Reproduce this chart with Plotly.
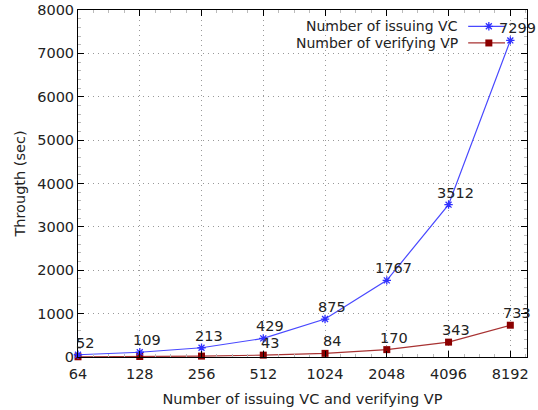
import plotly.graph_objects as go

categories = ["64", "128", "256", "512", "1024", "2048", "4096", "8192"]
issuing_vc = [52, 109, 213, 429, 875, 1767, 3512, 7299]
verifying_vp = [5, 11, 21, 43, 84, 170, 343, 733]
vp_labeled = [False, False, False, True, True, True, True, True]
y_ticks = [0, 1000, 2000, 3000, 4000, 5000, 6000, 7000, 8000]

BLUE = "#3030ff"
BLUE_LINE = "#4848ff"
RED = "#8b0000"
RED_LINE = "#a83232"
FONT = "DejaVu Sans"
FS = 14.5
xs = list(range(len(categories)))

fig = go.Figure()
fig.add_trace(go.Scatter(x=xs, y=verifying_vp, mode="lines+markers",
                         line=dict(color=RED_LINE, width=1.2),
                         marker=dict(symbol="square", size=7, color=RED),
                         showlegend=False, cliponaxis=False))
fig.add_trace(go.Scatter(x=xs, y=issuing_vc, mode="lines+markers",
                         line=dict(color=BLUE_LINE, width=1.2),
                         marker=dict(symbol="asterisk-open", size=7, color=BLUE,
                                     line=dict(color=BLUE, width=1.3)),
                         showlegend=False, cliponaxis=False))

annotations = []
for x, v in zip(xs, issuing_vc):
    annotations.append(dict(x=x, y=v, text=str(v), showarrow=False, xshift=7, yshift=12,
                            font=dict(family=FONT, size=FS, color="#222")))
for x, v, lab in zip(xs, verifying_vp, vp_labeled):
    if lab:
        annotations.append(dict(x=x, y=v, text=str(v), showarrow=False, xshift=7, yshift=12,
                                font=dict(family=FONT, size=FS, color="#222")))

# manual legend (text to the left of the sample, gnuplot style)
legend_names = ["Number of issuing VC", "Number of verifying VP"]
legend_y = [0.953, 0.905]
for name, ly in zip(legend_names, legend_y):
    annotations.append(dict(xref="paper", yref="paper", x=0.851, y=ly, text=name,
                            showarrow=False, xanchor="right", yanchor="middle",
                            font=dict(family=FONT, size=14, color="#222")))

fig.add_trace(go.Scatter(x=[0.869, 0.951], y=[0.953, 0.953],
                         xaxis="x2", yaxis="y2", mode="lines",
                         line=dict(color=BLUE_LINE, width=1.2), showlegend=False, hoverinfo="skip"))
fig.add_trace(go.Scatter(x=[0.915], y=[0.953], xaxis="x2", yaxis="y2", mode="markers",
                         marker=dict(symbol="asterisk-open", size=7, color=BLUE,
                                     line=dict(color=BLUE, width=1.3)),
                         showlegend=False, hoverinfo="skip"))
fig.add_trace(go.Scatter(x=[0.869, 0.951], y=[0.905, 0.905], xaxis="x2", yaxis="y2",
                         mode="lines", line=dict(color=RED_LINE, width=1.2),
                         showlegend=False, hoverinfo="skip"))
fig.add_trace(go.Scatter(x=[0.915], y=[0.905], xaxis="x2", yaxis="y2", mode="markers",
                         marker=dict(symbol="square", size=7, color=RED),
                         showlegend=False, hoverinfo="skip"))

fig.update_layout(
    width=538, height=410,
    margin=dict(l=78, r=11, t=10, b=53, autoexpand=False),
    paper_bgcolor="white", plot_bgcolor="white",
    font=dict(family=FONT, size=FS, color="#222"),
    annotations=annotations,
    xaxis=dict(range=[0, 7.27], tickvals=xs, ticktext=categories, automargin=False,
               showgrid=True, gridcolor="#999999", griddash="1px,4px", gridwidth=1,
               showline=True, linecolor="black", linewidth=1, mirror="ticks",
               ticks="inside", ticklen=6, tickcolor="black", zeroline=False,
               minor=dict(ticks="inside", ticklen=3, tickcolor="#bbbbbb", dtick=0.25,
                          tick0=0, showgrid=False),
               tickfont=dict(family=FONT, size=FS), ticklabelstandoff=4,
               title=dict(text="Number of issuing VC and verifying VP",
                          font=dict(family=FONT, size=FS), standoff=12)),
    yaxis=dict(range=[0, 8000], tickvals=y_ticks, automargin=False,
               showgrid=True, gridcolor="#999999", griddash="1px,4px", gridwidth=1,
               showline=True, linecolor="black", linewidth=1, mirror="ticks",
               ticks="inside", ticklen=6, tickcolor="black", zeroline=False,
               minor=dict(ticks="inside", ticklen=3, tickcolor="#bbbbbb", dtick=200,
                          tick0=0, showgrid=False),
               tickfont=dict(family=FONT, size=FS),
               title=dict(text="Througth (sec)", font=dict(family=FONT, size=FS), standoff=8)),
    xaxis2=dict(range=[0, 1], overlaying="x", visible=False, fixedrange=True),
    yaxis2=dict(range=[0, 1], overlaying="y", visible=False, fixedrange=True),
)

fig.write_html("out.html", config={"displayModeBar": False},
               post_script="document.body.style.margin='0';document.body.style.padding='0';")
